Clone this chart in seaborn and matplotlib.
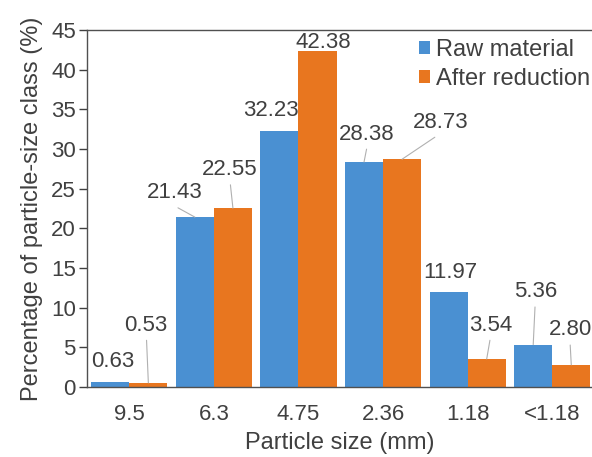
import matplotlib
matplotlib.use("Agg")
import matplotlib.pyplot as plt
import seaborn as sns
import pandas as pd

sizes = ["9.5", "6.3", "4.75", "2.36", "1.18", "<1.18"]
raw = [0.63, 21.43, 32.23, 28.38, 11.97, 5.36]
reduced = [0.53, 22.55, 42.38, 28.73, 3.54, 2.80]
series = ["Raw material", "After reduction"]
colors = ["#4A90D2", "#E8761F"]

# label anchor (x, y) in data coords and whether a leader line is drawn
raw_label_pos = [(-0.20, 3.2, False), (0.54, 24.5, True), (1.67, 34.9, False),
                 (2.81, 31.9, True), (3.79, 14.4, False), (4.80, 12.0, True)]
red_label_pos = [(0.20, 7.8, True), (1.19, 27.4, True), (2.29, 43.4, False),
                 (3.68, 33.4, True), (4.27, 7.8, True), (5.21, 7.2, True)]

df = pd.DataFrame({
    "size": sizes * 2,
    "pct": raw + reduced,
    "series": [series[0]] * len(sizes) + [series[1]] * len(sizes),
})

sns.set_style("white")
plt.rcParams["font.family"] = ["Liberation Sans", "DejaVu Sans"]
text_color = "#404040"

fig = plt.figure(figsize=(5.92, 4.57), dpi=100)
ax = fig.add_axes([0.147, 0.153, 0.853, 0.781])

sns.barplot(data=df, x="size", y="pct", hue="series", palette=colors,
            saturation=1, width=0.9, linewidth=0, ax=ax, legend=True)

ax.set_ylim(0, 45)
ax.set_xlim(-0.5, 5.47)
ax.set_yticks(range(0, 46, 5))
ax.tick_params(axis="y", which="major", direction="out", length=6, width=1,
               color="#404040", labelsize=16, labelcolor=text_color, left=True, pad=2)
ax.tick_params(axis="x", length=0, labelsize=16, labelcolor=text_color, pad=12)

for side in ["left", "bottom", "top"]:
    ax.spines[side].set_color("#505050")
    ax.spines[side].set_linewidth(1)
ax.spines["right"].set_visible(False)

ax.set_xlabel("Particle size (mm)", fontsize=17, color=text_color, labelpad=5)
ax.set_ylabel("Percentage of particle-size class (%)", fontsize=17,
              color=text_color, labelpad=6)

off = 0.225
for i in range(len(sizes)):
    for vals, pos, dx in ((raw, raw_label_pos, -off), (reduced, red_label_pos, off)):
        v = vals[i]
        lx, ly, lead = pos[i]
        ax.text(lx, ly, f"{v:.2f}", ha="center", va="center", fontsize=16,
                color=text_color)
        if lead:
            bx = i + dx
            sx = lx + (bx - lx) * 0.15
            ax.plot([sx, bx], [ly - 1.9, v], color="#B0B0B0", lw=0.8, zorder=1)

leg = ax.legend(loc="upper right", bbox_to_anchor=(1.025, 1.015), frameon=False,
                fontsize=17, handlelength=0.5, handleheight=0.5,
                handletextpad=0.25, labelspacing=0.3, borderaxespad=0.2)
for t in leg.get_texts():
    t.set_color(text_color)

fig.savefig("out.png", dpi=100)
